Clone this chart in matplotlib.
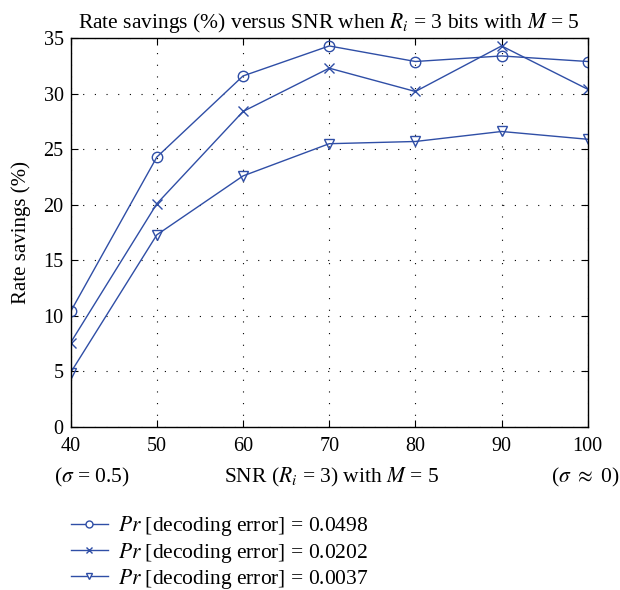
import matplotlib
matplotlib.use("Agg")
import matplotlib.pyplot as plt
from matplotlib.lines import Line2D

plt.rcParams['font.family'] = ['Liberation Serif', 'DejaVu Serif']
plt.rcParams['mathtext.fontset'] = 'stix'

snr = [40, 50, 60, 70, 80, 90, 100]
err_0498 = [10.4, 24.3, 31.6, 34.3, 32.9, 33.4, 32.9]
err_0202 = [7.6, 20.1, 28.4, 32.3, 30.2, 34.3, 30.4]
err_0037 = [4.9, 17.3, 22.6, 25.5, 25.7, 26.6, 25.9]
labels = ["0.0498", "0.0202", "0.0037"]
markers = ["o", "x", "v"]

color = "#2f4ea6"

fig = plt.figure(figsize=(6.2, 5.9), dpi=100)
ax = fig.add_axes([0.114, 0.2763, 0.834, 0.659])

handles = []
for ys, mk, lab in zip([err_0498, err_0202, err_0037], markers, labels):
    ax.plot(snr, ys, color=color, lw=1.0, marker=mk, ms=7.5,
            mfc="none", mec=color, mew=1.0)
    # smaller marker with white fill so the legend reads "-o-"
    handles.append(Line2D([], [], color=color, lw=1.0, marker=mk, ms=5,
                          mfc="white", mec=color, mew=1.0,
                          label=r"$Pr$ [decoding error] = " + lab))

ax.set_xlim(40, 100)
ax.set_ylim(0, 35)
ax.set_xticks(snr)
ax.set_yticks(range(0, 36, 5))
ax.grid(True, color="black", linestyle=(0, (1, 9.5)), linewidth=0.8)
ax.tick_params(direction="in", top=True, right=True, labelsize=14.5, length=5)
ax.tick_params(axis="x", pad=7)
ax.tick_params(axis="y", pad=5)
for s in ax.spines.values():
    s.set_linewidth(1.0)

ax.set_title(r"Rate savings (%) versus SNR when $R_i$ = 3 bits with $M$ = 5",
             fontsize=15.5, pad=7)
ax.set_ylabel("Rate savings (%)", fontsize=15, labelpad=9)

fig.text(0.148, 0.190, r"($\sigma$ = 0.5)", fontsize=15.5, ha="center", va="center")
fig.text(0.534, 0.190, r"SNR ($R_i$ = 3) with $M$ = 5", fontsize=15.5, ha="center", va="center")
fig.text(0.944, 0.190, r"($\sigma$ $\approx$ 0)", fontsize=15.5, ha="center", va="center")

fig.legend(handles=handles, loc="upper left", bbox_to_anchor=(0.1145, 0.128),
           frameon=False, fontsize=15.5, handlelength=1.7, handletextpad=0.5,
           labelspacing=0.1, borderpad=0, borderaxespad=0)

fig.savefig("out.png", dpi=100)
